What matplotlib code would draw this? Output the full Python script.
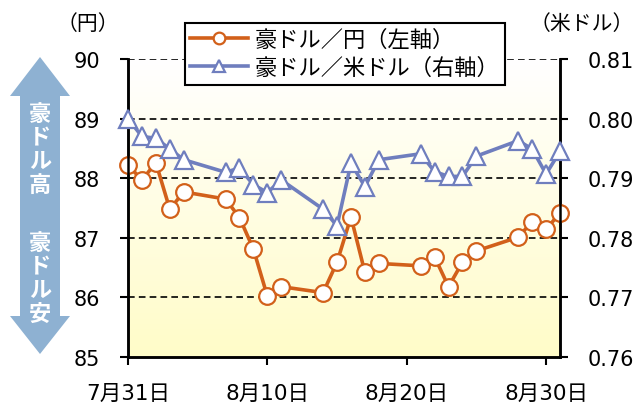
import numpy as np
import matplotlib.pyplot as plt
from matplotlib.colors import LinearSegmentedColormap
from matplotlib.patches import Polygon

plt.rcParams['font.family'] = ['DejaVu Sans', 'Noto Sans CJK JP']

# days since 7/31
days = [0, 1, 2, 3, 4, 7, 8, 9, 10, 11, 14, 15, 16, 17, 18,
        21, 22, 23, 24, 25, 28, 29, 30, 31]
aud_jpy = [88.22, 87.97, 88.26, 87.48, 87.77, 87.65, 87.34, 86.81, 86.02, 86.18,
           86.08, 86.59, 87.35, 86.42, 86.57, 86.53, 86.68, 86.18, 86.59, 86.78,
           87.01, 87.27, 87.14, 87.42]
aud_usd = [0.8000, 0.7970, 0.7967, 0.7949, 0.7931, 0.7910, 0.7917, 0.7889, 0.7876,
           0.7897, 0.7848, 0.7820, 0.7925, 0.7886, 0.7931, 0.7941, 0.7911, 0.7903,
           0.7903, 0.7937, 0.7963, 0.7949, 0.7907, 0.7945]
xtick_pos = [0, 10, 20, 30]
xtick_labels = ['7月31日', '8月10日', '8月20日', '8月30日']

orange = '#D2601A'
blue = '#6F7EBE'

fig = plt.figure(figsize=(6.34, 4.06), dpi=100)
W, H = 634, 406
ax = fig.add_axes([128 / W, 1 - 358 / H, 432 / W, 298 / H])
ax2 = ax.twinx()

# yellow gradient background
cmap = LinearSegmentedColormap.from_list('bg', ['#FFFFFF', '#FFFCC8'])
grad = np.linspace(0, 1, 256).reshape(-1, 1)
ax.imshow(grad, cmap=cmap, aspect='auto', extent=[0, 1, 0, 1],
          transform=ax.transAxes, zorder=0)

ax.set_xlim(0, 31)
ax.set_ylim(85, 90)
ax2.set_ylim(0.76, 0.81)
ax.set_yticks([85, 86, 87, 88, 89, 90])
ax2.set_yticks([0.76, 0.77, 0.78, 0.79, 0.80, 0.81])
ax2.set_yticklabels(['0.76', '0.77', '0.78', '0.79', '0.80', '0.81'])
ax.set_xticks(xtick_pos)
ax.set_xticklabels(xtick_labels)

for y in [86, 87, 88, 89, 90]:
    ax.axhline(y, color='black', lw=1.2, ls=(0, (4, 2.5)), zorder=1)

for a in (ax, ax2):
    a.spines['top'].set_visible(False)
    for s in a.spines.values():
        s.set_linewidth(1.8)
    a.tick_params(labelsize=15, width=1.5, length=6)
ax.tick_params(axis='y', pad=14)
ax2.tick_params(axis='y', pad=14)
ax.tick_params(axis='x', pad=13, labelsize=15.5)

l1, = ax.plot(days, aud_jpy, color=orange, lw=2.6, marker='o', ms=12,
              mfc='white', mec=orange, mew=1.6, zorder=3,
              label='豪ドル／円（左軸）', clip_on=False)
l2, = ax2.plot(days, aud_usd, color=blue, lw=2.6, marker='^', ms=13,
               mfc='white', mec=blue, mew=1.6, zorder=3,
               label='豪ドル／米ドル（右軸）', clip_on=False)

leg = ax2.legend(handles=[l1, l2], loc='upper center', bbox_to_anchor=(0.502, 1.122),
                 frameon=True, fancybox=False, edgecolor='black',
                 framealpha=1, borderpad=0.25, labelspacing=0.22, handlelength=2.6,
                 handletextpad=0.3, borderaxespad=0, markerscale=0.7,
                 prop={'family': ['Noto Sans CJK JP'], 'size': 16})
leg.get_frame().set_linewidth(1.5)
leg.set_zorder(5)

fig.text(88 / W, 1 - 24 / H, '（円）', fontsize=15, ha='center', va='center',
         family=['Noto Sans CJK JP'])
fig.text(634 / W, 1 - 24 / H, '（米ドル）', fontsize=15, ha='right', va='center',
         family=['Noto Sans CJK JP'])

# double arrow on the left
def px(x, y):
    return (x / W, 1 - y / H)

arrow_pts = [px(40, 58), px(70, 97), px(60, 97), px(60, 317), px(70, 317),
             px(40, 355), px(10, 317), px(20, 317), px(20, 97), px(10, 97)]
fig.patches.append(Polygon(arrow_pts, closed=True, transform=fig.transFigure,
                           facecolor='#8EB1D2', edgecolor='none'))
fig.text(40 / W, 1 - 150 / H, '\n'.join('豪ドル高'), color='white', fontsize=16,
         fontweight='bold', ha='center', va='center', linespacing=1.05,
         family=['Noto Sans CJK JP'])
fig.text(40 / W, 1 - 279 / H, '\n'.join('豪ドル安'), color='white', fontsize=16,
         fontweight='bold', ha='center', va='center', linespacing=1.05,
         family=['Noto Sans CJK JP'])

fig.savefig('out.png', dpi=100)
